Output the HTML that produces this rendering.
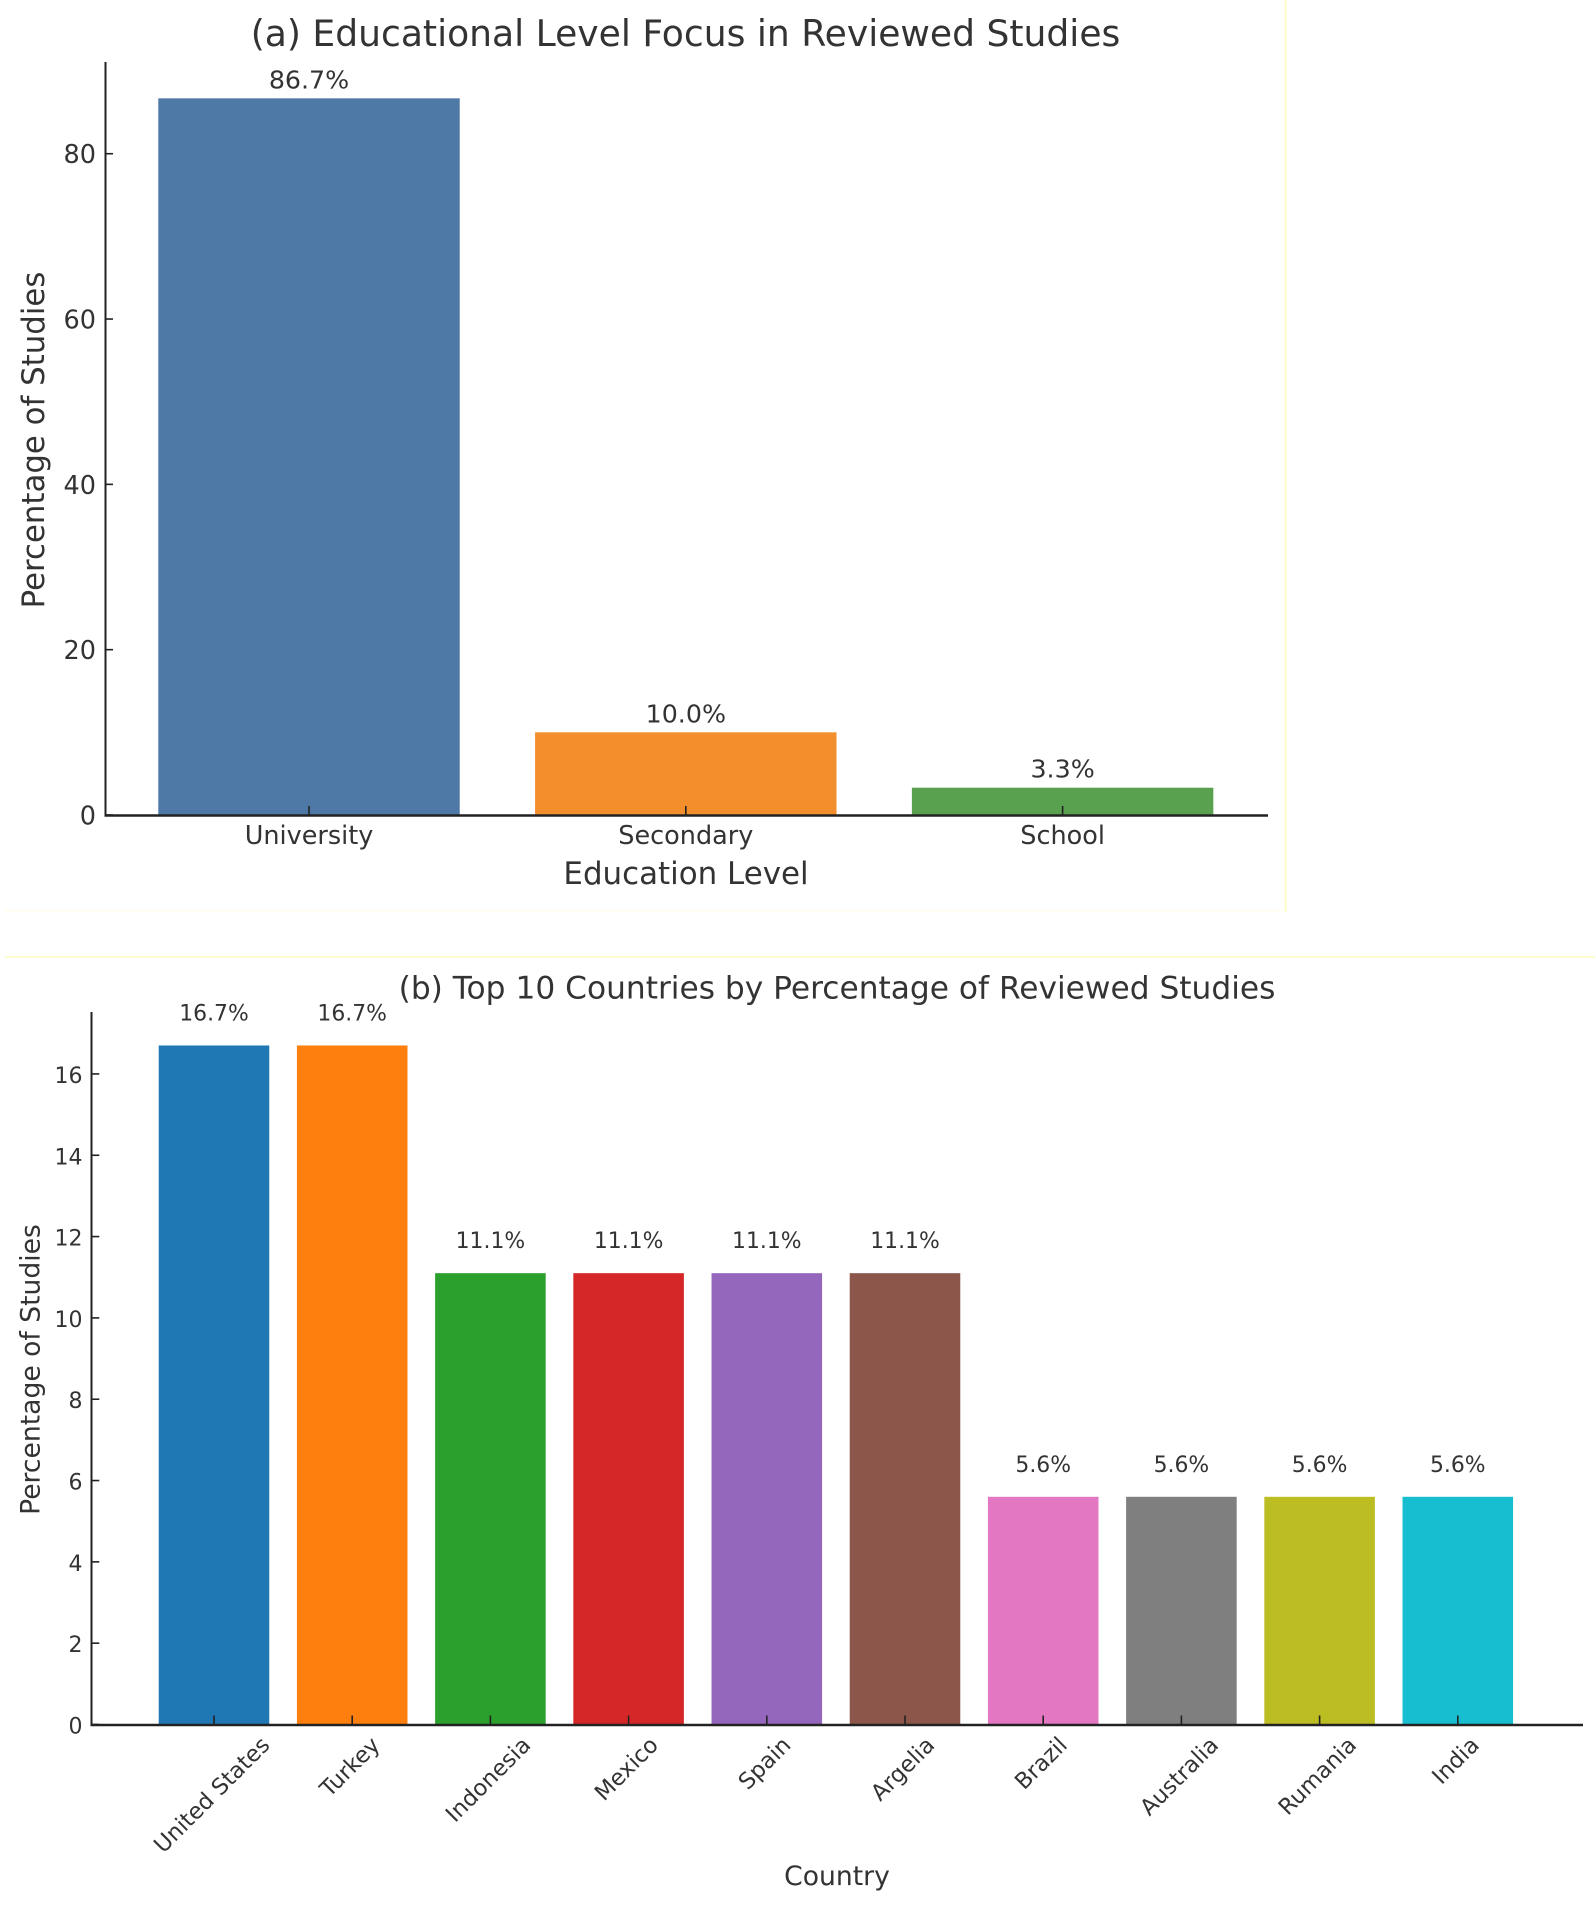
<!DOCTYPE html>
<html lang="en">
<head>
<meta charset="utf-8">
<title>Educational Level and Country Focus in Reviewed Studies</title>
<style>
html,body{margin:0;padding:0;background:#fff;}
body{width:1595px;height:1906px;overflow:hidden;}
svg{display:block;}
text{font-family:"DejaVu Sans","Liberation Sans",sans-serif;fill:#333;}
</style>
</head>
<body>
<svg id="figure" xmlns="http://www.w3.org/2000/svg" width="1595" height="1906" viewBox="0 0 1595 1906">
  <rect x="0" y="0" width="1595" height="1906" fill="#ffffff"/>
  <line x1="1285.5" y1="0" x2="1285.5" y2="912" stroke="#fffbc4" stroke-width="1.8"/>
  <line x1="5" y1="910.5" x2="1285" y2="910.5" stroke="#fffeec" stroke-width="1.6"/>
  <line x1="5" y1="957" x2="1595" y2="957" stroke="#fffbc8" stroke-width="1.8"/>
  <g id="chart-a"></g>
  <g id="chart-b"></g>
</svg>
<script>
// Chart (a) data
const educationLevels = ["University", "Secondary", "School"];
const educationValues = [86.7, 10.0, 3.3];
const educationTicks = [0, 20, 40, 60, 80];
const educationColors = ["#4e79a7", "#f28e2b", "#59a14f"];

// Chart (b) data
const countries = ["United States", "Turkey", "Indonesia", "Mexico", "Spain", "Argelia", "Brazil", "Australia", "Rumania", "India"];
const countryValues = [16.7, 16.7, 11.1, 11.1, 11.1, 11.1, 5.6, 5.6, 5.6, 5.6];
const countryTicks = [0, 2, 4, 6, 8, 10, 12, 14, 16];
const countryColors = ["#1f77b4", "#ff7f0e", "#2ca02c", "#d62728", "#9467bd", "#8c564b", "#e377c2", "#7f7f7f", "#bcbd22", "#17becf"];

const SVG_NS = "http://www.w3.org/2000/svg";
const AXIS_COLOR = "#222";

// Axis functions
function xA(i) { return 309 + i * 376.8; }
function yA(v) { return 815 - v * 8.266; }
function xB(i) { return 214 + i * 138.2; }
function yB(v) { return 1724.5 - v * 40.66; }

function mk(parent, tag, attrs, content) {
  const el = document.createElementNS(SVG_NS, tag);
  for (const k in attrs) el.setAttribute(k, attrs[k]);
  if (content !== undefined) el.textContent = content;
  parent.appendChild(el);
  return el;
}
function textAt(parent, x, y, str, size, anchor, rot) {
  const t = "translate(" + x + " " + y + ")" + (rot ? " rotate(" + rot + ")" : "");
  return mk(parent, "text", { transform: t, "font-size": size, "text-anchor": anchor }, str);
}
function slug(s) { return s.toLowerCase().replace(/\s+/g, "-"); }

function drawChartA() {
  const g = document.getElementById("chart-a");
  const w = 0.8 * (xA(1) - xA(0));
  educationValues.forEach(function (v, i) {
    const bar = mk(g, "rect", { x: xA(i) - w / 2, y: yA(v), width: w, height: yA(0) - yA(v), fill: educationColors[i] });
    
    
    const lab = textAt(g, xA(i), yA(v) - 10, v.toFixed(1) + "%", 25.3, "middle");
    
    
    const tick = mk(g, "line", { x1: xA(i), x2: xA(i), y1: yA(0), y2: yA(0) - 9, stroke: AXIS_COLOR, "stroke-width": 1.6 });
    
    
    const tl = textAt(g, xA(i), 844, educationLevels[i], 25.5, "middle");
    
    
  });
  educationTicks.forEach(function (v) {
    const tick = mk(g, "line", { x1: 105.5, x2: 113, y1: yA(v), y2: yA(v), stroke: AXIS_COLOR, "stroke-width": 1.6 });
    
    
    const tl = textAt(g, 96, yA(v) + 9.5, String(v), 25.5, "end");
    
    
  });
  const ySpine = mk(g, "line", { x1: 105.5, x2: 105.5, y1: 62, y2: 816, stroke: AXIS_COLOR, "stroke-width": 2 });
  
  
  const xSpine = mk(g, "line", { x1: 104.5, x2: 1268, y1: 815.5, y2: 815.5, stroke: AXIS_COLOR, "stroke-width": 2.4 });
  
  
  const title = textAt(g, 685.5, 46, "(a) Educational Level Focus in Reviewed Studies", 36.1, "middle");
  
  
  const xt = textAt(g, 686, 884, "Education Level", 30.9, "middle");
  
  
  const yt = textAt(g, 44, 440, "Percentage of Studies", 30.8, "middle", -90);
  
  
}

function drawChartB() {
  const g = document.getElementById("chart-b");
  const w = 0.8 * (xB(1) - xB(0));
  countryValues.forEach(function (v, i) {
    const bar = mk(g, "rect", { x: xB(i) - w / 2, y: yB(v), width: w, height: yB(0) - yB(v), fill: countryColors[i] });
    
    
    const lab = textAt(g, xB(i), yB(v) - 25, v.toFixed(1) + "%", 21.9, "middle");
    
    
    const tick = mk(g, "line", { x1: xB(i), x2: xB(i), y1: yB(0), y2: yB(0) - 9, stroke: AXIS_COLOR, "stroke-width": 1.6 });
    
    
    const tl = textAt(g, xB(i), 1790, countries[i], 22.5, "middle", -45);
    
    
    const len = tl.getComputedTextLength();
    const half = (len + 22) * Math.SQRT1_2 / 2;
    tl.setAttribute("transform", "translate(" + (xB(i) + 1) + " " + (1737 + half - 0.5) + ") rotate(-45) translate(0 3)");
  });
  countryTicks.forEach(function (v) {
    const tick = mk(g, "line", { x1: 91.5, x2: 99.3, y1: yB(v), y2: yB(v), stroke: AXIS_COLOR, "stroke-width": 1.6 });
    
    
    const tl = textAt(g, 82.5, yB(v) + 9, String(v), 22, "end");
    
    
  });
  const ySpine = mk(g, "line", { x1: 91.5, x2: 91.5, y1: 1012, y2: 1725.5, stroke: AXIS_COLOR, "stroke-width": 2 });
  
  
  const xSpine = mk(g, "line", { x1: 90.5, x2: 1583, y1: 1725, y2: 1725, stroke: AXIS_COLOR, "stroke-width": 2.4 });
  
  
  const title = textAt(g, 837, 998.5, "(b) Top 10 Countries by Percentage of Reviewed Studies", 31.25, "middle");
  
  
  const xt = textAt(g, 837, 1885, "Country", 26.6, "middle");
  
  
  const yt = textAt(g, 39.5, 1369.5, "Percentage of Studies", 26.6, "middle", -90);
  
  
}

drawChartA();
drawChartB();
</script>
</body>
</html>
